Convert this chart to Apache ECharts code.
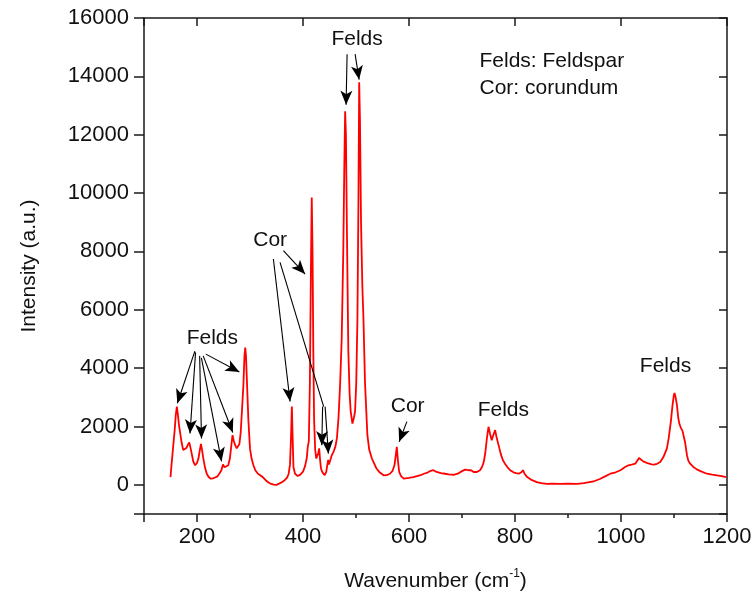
<!DOCTYPE html>
<html>
<head>
<meta charset="utf-8">
<script src="https://cdn.jsdelivr.net/npm/echarts@6/dist/echarts.min.js"></script>
<style>html,body{margin:0;padding:0;background:#fff;}#c{width:755px;height:601px;}</style>
</head>
<body>
<div id="c"></div>
<script>
// Raman spectrum
const wavenumber = [150,152,155,158,160,162,164,166,168,171,174,177,180,183,185.5,188,190,193,196.5,200,202.7,205,207.5,209.5,212,215,218.4,222,226,230,234,238,242,246,249,252,255,259,262,264.5,267,269.5,272,275,277,280,282.5,285,287.5,289.5,291,292.5,294.5,297,300,303,306.4,310,315,320,325,330,335,340,345,350,355,360,365,370,373,375.5,377.5,379,380.5,382,385,390,395,400,404,407,409,411,413,415,416.5,418,419.5,421,423,425,427,429,430.5,432,434,437,441,444,446,447.5,449,451,454,458,461,464,467,470,473,476,478,479.5,481,483,485.5,488,490,493.3,496,498.2,500.5,502.7,504.5,506,507.5,509.5,512,514,517,521.5,525,530,539,545,552,558,564,569,572.5,575,577,579,581.5,585,590,600,608,615,622,628,635,641,646,652,660,668,675,684,692,700,706,712,717,722,728,734,738,741,744,747,750,753,756,759,762.5,765,769,773,777,781,786,791,797,802,807,812,815,818,823,830,841,850,860,870,885,900,917,930,948,960,970,980,990,999,1007,1014,1020,1027,1030,1034,1037,1042,1050,1058,1062,1068,1074,1080,1086.5,1090,1094,1097,1099.5,1101,1103,1105.5,1108,1110,1113,1116,1118,1121,1124.5,1127,1130.5,1136,1143,1150,1162,1172,1181,1190,1198];
const intensity = [265,700,1300,1900,2400,2680,2400,2050,1810,1450,1190,1230,1265,1380,1450,1250,1070,800,670,750,900,1150,1400,1200,900,600,380,270,210,220,250,280,380,500,700,600,560,670,900,1300,1700,1500,1360,1250,1240,1400,1800,2600,3400,4400,4700,4400,3400,2200,1240,900,670,500,380,320,250,150,80,30,10,0,40,90,150,250,380,700,1700,2680,1600,600,380,300,350,450,650,900,1300,1500,3500,7500,9850,8000,4500,2200,1200,900,900,1100,1250,900,550,420,330,450,700,850,700,720,1000,1150,1300,1600,2300,3440,5000,8000,11000,12800,12000,8500,4600,3100,2510,2100,2300,2510,3500,5700,9500,13800,12500,9000,6800,5730,3500,1700,1200,900,550,420,325,330,380,480,670,1000,1300,850,440,300,210,240,265,300,330,380,420,480,500,440,400,380,360,345,380,470,520,500,500,440,440,500,620,780,1100,1600,1990,1750,1530,1700,1875,1650,1360,1070,850,725,600,500,430,400,380,430,500,380,265,180,95,60,35,40,30,40,35,60,115,200,290,380,430,500,600,670,690,725,780,920,860,805,740,700,690,720,780,950,1240,1600,2160,2700,3050,3150,3000,2740,2300,2100,1950,1850,1820,1450,1015,830,725,620,530,470,380,350,325,300,265];

// Annotation texts (label, wavenumber, intensity)
const labelTexts = ['Felds', 'Felds', 'Cor', 'Cor', 'Felds', 'Felds'];
const labelX = [229, 502, 338, 597.5, 778, 1084];
const labelY = [5035, 15265, 8395, 2680, 2565, 4060];
const noteLines = ['Felds: Feldspar', 'Cor: corundum'];
const noteX = [732, 732];
const noteY = [14515, 13580];

// Arrows: start point -> end point (data coordinates)
const arrowFromX = [196, 197.3, 205, 208.3, 211.7, 216.7, 344.1, 363, 437, 441.7, 483.2, 498.3, 596];
const arrowFromY = [4580, 4540, 4420, 4350, 4420, 4480, 7740, 8030, 2680, 2680, 14760, 14760, 2165];
const arrowToX = [162.9, 186.8, 208.5, 246.3, 267.5, 280, 375.6, 404, 435.5, 447.9, 481.3, 505.9, 581.4];
const arrowToY = [2795, 1760, 1590, 805, 1795, 3865, 2855, 7225, 1360, 1070, 13030, 13890, 1475];
// Cor leader line that splits into the two arrows near 435 / 448
const leaderX = [356.7, 439];
const leaderY = [7625, 2680];

const FONT = 'Liberation Sans, Arial, sans-serif';
const AX = '#1a1a1a';

const spectrum = wavenumber.map((w, i) => [w, intensity[i]]);

const markLineData = [];
for (let i = 0; i < arrowToX.length; i++) {
  markLineData.push([
    { coord: [arrowFromX[i], arrowFromY[i]], symbol: 'none' },
    { coord: [arrowToX[i], arrowToY[i]], symbol: 'arrow', symbolSize: [9, 14] }
  ]);
}
markLineData.push([
  { coord: [leaderX[0], leaderY[0]], symbol: 'none' },
  { coord: [leaderX[1], leaderY[1]], symbol: 'none' }
]);

const markPointData = [];
labelTexts.forEach((t, i) => {
  markPointData.push({
    coord: [labelX[i], labelY[i]], symbol: 'rect', symbolSize: 1,
    itemStyle: { color: 'rgba(0,0,0,0)' },
    label: { show: true, formatter: t, position: 'inside', color: '#111', fontSize: 21, fontFamily: FONT }
  });
});
noteLines.forEach((t, i) => {
  markPointData.push({
    coord: [noteX[i], noteY[i]], symbol: 'rect', symbolSize: 1,
    itemStyle: { color: 'rgba(0,0,0,0)' },
    label: { show: true, formatter: t, position: 'right', distance: 0, color: '#111', fontSize: 21, fontFamily: FONT }
  });
});

const chart = echarts.init(document.getElementById('c'), null, { renderer: 'canvas' });
const common = { min: 100, max: 1200, type: 'value', splitLine: { show: false } };
chart.setOption({
  animation: false,
  backgroundColor: '#fff',
  grid: { left: 144, right: 28, top: 18, bottom: 87, containLabel: false },
  xAxis: [
    Object.assign({}, common, {
      position: 'bottom', splitNumber: 5,
      axisLine: { show: true, onZero: false, lineStyle: { color: AX, width: 1.5 } },
      axisTick: { show: true, inside: false, length: 8, lineStyle: { color: AX, width: 1.5 } },
      axisLabel: { show: true, margin: 12, fontSize: 22, color: '#111', fontFamily: FONT,
        formatter: v => (v % 200 === 0 ? String(v) : '') },
      name: '{a|Wavenumber (cm}{b|-1}{a|)}', nameLocation: 'middle', nameGap: 54,
      nameTextStyle: { rich: {
        a: { fontSize: 21, color: '#111', fontFamily: FONT, lineHeight: 26 },
        b: { fontSize: 12, color: '#111', fontFamily: FONT, verticalAlign: 'top', lineHeight: 26 }
      } }
    }),
    Object.assign({}, common, {
      position: 'bottom', interval: 100,
      axisLine: { show: false, onZero: false },
      axisTick: { show: true, inside: false, length: 4, lineStyle: { color: AX, width: 1.5 } },
      axisLabel: { show: false }
    }),
    Object.assign({}, common, {
      position: 'top', splitNumber: 5,
      axisLine: { show: true, onZero: false, lineStyle: { color: AX, width: 1.5 } },
      axisTick: { show: true, inside: true, length: 8, lineStyle: { color: AX, width: 1.5 } },
      axisLabel: { show: false }
    })
  ],
  yAxis: [
    {
      type: 'value', min: -1000, max: 16000, splitNumber: 8, position: 'left',
      splitLine: { show: false },
      axisLine: { show: true, onZero: false, lineStyle: { color: AX, width: 1.5 } },
      axisTick: { show: true, inside: false, length: 10, lineStyle: { color: AX, width: 1.5 } },
      axisLabel: { show: true, margin: 15, fontSize: 22, color: '#111', fontFamily: FONT,
        formatter: v => (v % 2000 === 0 ? String(v) : '') },
      name: 'Intensity (a.u.)', nameLocation: 'middle', nameGap: 104,
      nameTextStyle: { fontSize: 21, color: '#111', fontFamily: FONT }
    },
    {
      type: 'value', min: -1000, max: 16000, splitNumber: 8, position: 'right',
      splitLine: { show: false },
      axisLine: { show: true, onZero: false, lineStyle: { color: AX, width: 1.5 } },
      axisTick: { show: true, inside: true, length: 8, lineStyle: { color: AX, width: 1.5 } },
      axisLabel: { show: false }
    }
  ],
  series: [{
    type: 'line', xAxisIndex: 0, yAxisIndex: 0,
    data: spectrum, showSymbol: false, symbol: 'none',
    lineStyle: { color: '#ff0000', width: 1.8 },
    itemStyle: { color: '#ff0000' },
    markLine: {
      silent: true, animation: false,
      label: { show: false },
      lineStyle: { color: '#000', width: 1.1, type: 'solid' },
      emphasis: { disabled: true },
      data: markLineData
    },
    markPoint: {
      silent: true, animation: false,
      data: markPointData
    }
  }]
});
</script>
</body>
</html>
